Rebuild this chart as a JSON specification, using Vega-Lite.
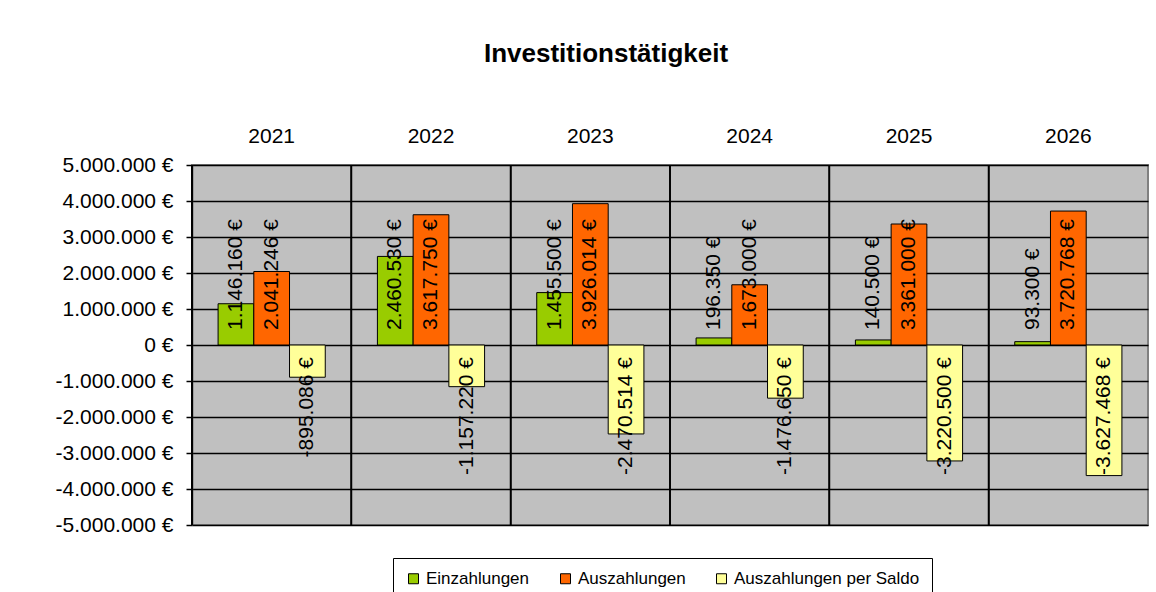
{
  "$schema": "https://vega.github.io/schema/vega-lite/v6.json",
  "width": 956,
  "height": 360,
  "autosize": {"type": "none"},
  "padding": {"left": 192, "top": 165, "right": 8, "bottom": 67},
  "background": "white",
  "title": {
    "text": "Investitionstätigkeit",
    "font": "Liberation Sans",
    "fontSize": 26,
    "fontWeight": "bold",
    "color": "black",
    "anchor": "middle",
    "dx": -64,
    "offset": 58
  },
  "data": {
    "values": [
      {"Jahr": "2021", "Reihe": "Einzahlungen", "Wert": 1146160},
      {"Jahr": "2021", "Reihe": "Auszahlungen", "Wert": 2041246},
      {"Jahr": "2021", "Reihe": "Auszahlungen per Saldo", "Wert": -895086},
      {"Jahr": "2022", "Reihe": "Einzahlungen", "Wert": 2460530},
      {"Jahr": "2022", "Reihe": "Auszahlungen", "Wert": 3617750},
      {"Jahr": "2022", "Reihe": "Auszahlungen per Saldo", "Wert": -1157220},
      {"Jahr": "2023", "Reihe": "Einzahlungen", "Wert": 1455500},
      {"Jahr": "2023", "Reihe": "Auszahlungen", "Wert": 3926014},
      {"Jahr": "2023", "Reihe": "Auszahlungen per Saldo", "Wert": -2470514},
      {"Jahr": "2024", "Reihe": "Einzahlungen", "Wert": 196350},
      {"Jahr": "2024", "Reihe": "Auszahlungen", "Wert": 1673000},
      {"Jahr": "2024", "Reihe": "Auszahlungen per Saldo", "Wert": -1476650},
      {"Jahr": "2025", "Reihe": "Einzahlungen", "Wert": 140500},
      {"Jahr": "2025", "Reihe": "Auszahlungen", "Wert": 3361000},
      {"Jahr": "2025", "Reihe": "Auszahlungen per Saldo", "Wert": -3220500},
      {"Jahr": "2026", "Reihe": "Einzahlungen", "Wert": 93300},
      {"Jahr": "2026", "Reihe": "Auszahlungen", "Wert": 3720768},
      {"Jahr": "2026", "Reihe": "Auszahlungen per Saldo", "Wert": -3627468}
    ]
  },
  "encoding": {
    "x": {
      "field": "Jahr",
      "type": "nominal",
      "title": null,
      "scale": {"paddingInner": 0, "paddingOuter": 0}
    }
  },
  "layer": [
    {
      "mark": {"type": "rule", "color": "black", "strokeWidth": 1.5},
      "encoding": {
        "x": {"field": "Jahr", "type": "nominal", "title": null, "bandPosition": 0}
      }
    },
    {
      "mark": {"type": "bar", "stroke": "black", "strokeWidth": 1},
      "encoding": {
        "xOffset": {
          "field": "Reihe",
          "type": "nominal",
          "sort": ["Einzahlungen", "Auszahlungen", "Auszahlungen per Saldo"],
          "scale": {"paddingInner": 0, "paddingOuter": 0.73}
        },
        "y": {
          "field": "Wert",
          "type": "quantitative",
          "title": null,
          "scale": {"domain": [-5000000, 5000000], "nice": false}
        },
        "color": {
          "field": "Reihe",
          "type": "nominal",
          "scale": {
            "domain": ["Einzahlungen", "Auszahlungen", "Auszahlungen per Saldo"],
            "range": ["#99CC00", "#FF6600", "#FFFF99"]
          },
          "legend": {
            "orient": "none",
            "legendX": 201,
            "legendY": 393,
            "direction": "horizontal",
            "title": null,
            "symbolType": "square",
            "symbolSize": 100,
            "symbolStrokeColor": "black",
            "symbolStrokeWidth": 1,
            "symbolOpacity": 1,
            "labelFont": "Liberation Sans",
            "labelFontSize": 17,
            "labelColor": "black",
            "labelLimit": 400,
            "labelOffset": 4,
            "columnPadding": 27,
            "padding": 12,
            "strokeColor": "black",
            "fillColor": "white"
          }
        }
      }
    },
    {
      "transform": [{"filter": "datum.Wert >= 0"}],
      "mark": {"type": "text", "angle": 270, "align": "left", "baseline": "middle", "dx": 15, "font": "Liberation Sans", "fontSize": 21, "color": "black"},
      "encoding": {
        "xOffset": {
          "field": "Reihe",
          "type": "nominal",
          "sort": ["Einzahlungen", "Auszahlungen", "Auszahlungen per Saldo"]
        },
        "y": {"datum": 0, "type": "quantitative"},
        "text": {"field": "Wert", "type": "quantitative", "format": "$,.0f"}
      }
    },
    {
      "transform": [{"filter": "datum.Wert < 0"}],
      "mark": {"type": "text", "angle": 270, "align": "right", "baseline": "middle", "dx": -12, "font": "Liberation Sans", "fontSize": 21, "color": "black"},
      "encoding": {
        "xOffset": {
          "field": "Reihe",
          "type": "nominal",
          "sort": ["Einzahlungen", "Auszahlungen", "Auszahlungen per Saldo"]
        },
        "y": {"datum": 0, "type": "quantitative"},
        "text": {"field": "Wert", "type": "quantitative", "format": "$,.0f"}
      }
    }
  ],
  "config": {
    "locale": {
      "number": {
        "decimal": ",",
        "thousands": ".",
        "grouping": [3],
        "currency": ["", " €"],
        "minus": "-"
      }
    },
    "view": {"fill": "#C0C0C0", "stroke": "#808080", "strokeWidth": 2},
    "axisX": {
      "orient": "top",
      "labelAngle": 0,
      "ticks": false,
      "tickSize": 0,
      "domain": false,
      "grid": false,
      "labelPadding": 19,
      "labelFont": "Liberation Sans",
      "labelFontSize": 21,
      "labelColor": "black"
    },
    "axisY": {
      "values": [-5000000, -4000000, -3000000, -2000000, -1000000, 0, 1000000, 2000000, 3000000, 4000000, 5000000],
      "format": "$,.0f",
      "grid": true,
      "gridColor": "black",
      "gridWidth": 1.5,
      "gridOpacity": 1,
      "domainColor": "#303030",
      "domainWidth": 1.5,
      "tickColor": "black",
      "tickSize": 6,
      "tickWidth": 1.5,
      "labelPadding": 13,
      "labelFont": "Liberation Sans",
      "labelFontSize": 21,
      "labelColor": "black"
    }
  }
}
